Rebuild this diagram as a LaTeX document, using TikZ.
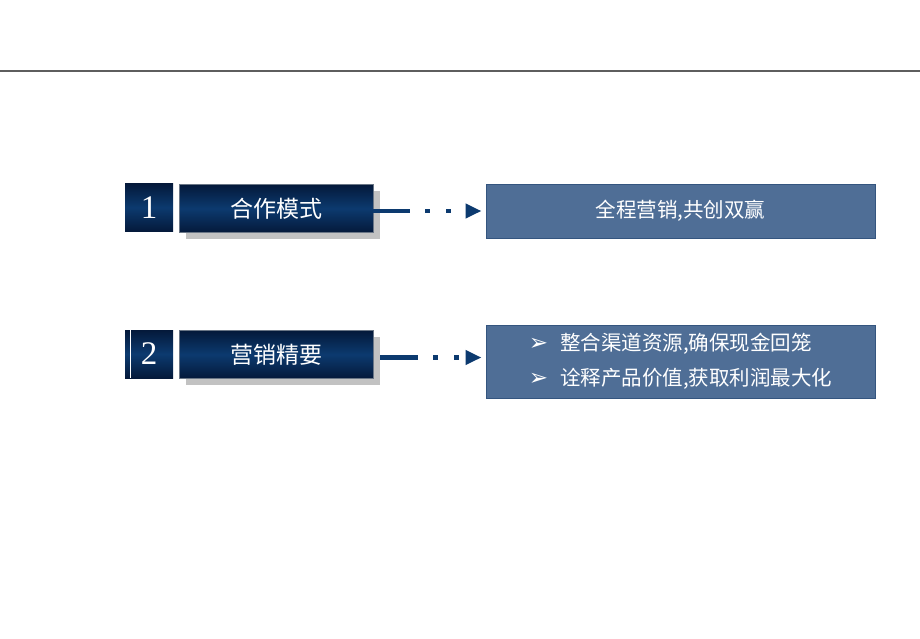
\documentclass[tikz,border=0pt]{standalone}
\usepackage{fontspec}
\setmainfont{Liberation Serif}
\newfontfamily\cjk{Noto Sans CJK SC}
\newfontfamily\symfont{DejaVu Sans}
\usetikzlibrary{arrows.meta, positioning, calc, shadows}
\definecolor{mnavy}{HTML}{0C3A6F}
\definecolor{mdeep}{HTML}{04193A}
\definecolor{msteel}{HTML}{4F6E96}
\definecolor{msteeldk}{HTML}{34557F}
\definecolor{mrule}{HTML}{5E5E5E}
\definecolor{mshadow}{HTML}{C2C2C2}
\definecolor{mframe}{HTML}{6A7686}
\tikzset{
  numbox/.style={top color=mdeep, bottom color=mdeep, middle color=mnavy, text=white,
                 minimum width=48pt, minimum height=48pt, inner sep=0pt,
                 font=\fontsize{33}{33}\selectfont},
  titlebox/.style={top color=mdeep, bottom color=mdeep, middle color=mnavy, draw=mframe,
                   text=white, minimum width=194pt, minimum height=48pt, inner sep=0pt,
                   drop shadow={shadow xshift=7pt, shadow yshift=-6pt, fill=mshadow, opacity=1},
                   font=\cjk\fontsize{23}{23}\selectfont},
  infobox/.style={fill=msteel, draw=msteeldk, line width=1pt, text=white,
                  minimum width=389pt, inner sep=0pt, align=left,
                  font=\cjk\fontsize{20.5}{35}\selectfont},
  link/.style={line width=4.5pt, mnavy},
  dotlink/.style={line width=4.5pt, mnavy, dash pattern=on 5pt off 16pt, dash phase=6pt,
                  shorten >=4pt, -{Triangle[length=16pt,width=14pt]}},
}
\newcommand{\bulletmark}{{\symfont\fontsize{23}{23}\selectfont ➢}\hspace{12pt}}

\begin{document}
\begin{tikzpicture}[x=1pt, y=-1pt]
  \useasboundingbox (0,0) rectangle (920,638);

  % top rule
  \coordinate (ruleL) at (0,71);
  \coordinate (ruleR) at (920,71);
  \draw[mrule, line width=1.5pt] (ruleL) -- (ruleR);

  % row 1
  \node[numbox] (n1) at (149,207.5) {1};
  \node[titlebox] (t1) at (276,208.5) {合作模式};
  \node[infobox, minimum height=54pt] (r1) at (680.5,211) {全程营销,共创双赢};
  \draw[link] (t1.east |- r1.west) -- ++(37,0) coordinate (c1);
  \draw[dotlink] (c1) -- (r1.west);

  % row 2
  \node[numbox] (n2) at (149,354) {2};
  \draw[white, line width=1.2pt] ($(n2.north west)+(6,0)$) -- ($(n2.south west)+(6,0)$);
  \node[titlebox] (t2) at (276,354.5) {营销精要};
  \node[infobox, minimum height=73pt] (r2) at (680.5,361.5)
    {\bulletmark 整合渠道资源,确保现金回笼\\
     \bulletmark 诠释产品价值,获取利润最大化};
  \coordinate (a2) at ($(t2.east)+(7,3)$);
  \draw[link] (a2) -- ++(38,0) coordinate (c2);
  \draw[dotlink] (c2) -- (c2 -| r2.west);
\end{tikzpicture}
\end{document}
